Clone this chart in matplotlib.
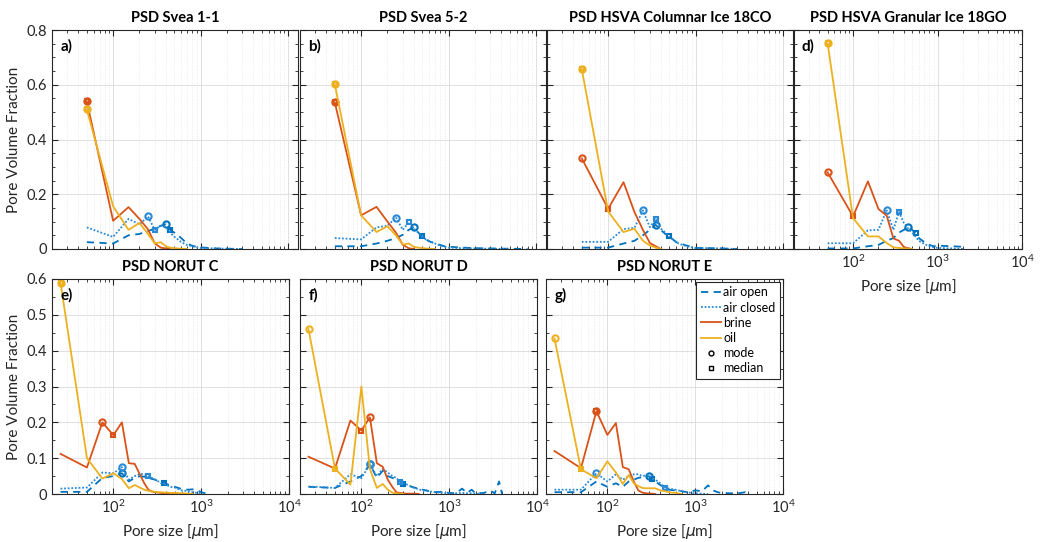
import matplotlib
matplotlib.use("Agg")
import matplotlib.pyplot as plt
from matplotlib.lines import Line2D
from matplotlib.ticker import MultipleLocator, NullFormatter, LogLocator

plt.rcParams['font.family'] = ['Lato', 'DejaVu Sans']
plt.rcParams['mathtext.fontset'] = 'dejavusans'

# pore size bins [um]
x_top = [50, 100, 150, 200, 250, 300, 350, 400, 450, 500, 550, 600,
         700, 800, 900, 1000, 1500, 2000, 3000, 5000, 8000]
x_bot = [25, 50, 75, 100, 125, 150, 175, 200, 225, 250, 275, 300, 325, 350,
         375, 400, 450, 500, 600, 700, 800, 900, 1000, 1200, 1400, 1600,
         1800, 2000, 2500, 2900, 3300, 3700, 4000]

titles = ["PSD Svea 1-1", "PSD Svea 5-2", "PSD HSVA Columnar Ice 18CO",
          "PSD HSVA Granular Ice 18GO", "PSD NORUT C", "PSD NORUT D", "PSD NORUT E"]
letters = ["a)", "b)", "", "d)", "e)", "f)", "g)"]

# a) Svea 1-1
a_air_open = [0.025, 0.02, 0.05, 0.055, 0.065, 0.075, 0.085, 0.09, 0.07, 0.06, 0.05, 0.04,
              0.02, 0.012, 0.008, 0.006, 0.002, 0.001, 0.0]
a_air_closed = [0.079, 0.044, 0.11, 0.09, 0.119, 0.07, 0.085, 0.08, 0.06, 0.045, 0.035, 0.025,
                0.015, 0.01, 0.006, 0.004, 0.002, 0.001, 0.0]
a_brine = [0.54, 0.103, 0.153, 0.11, 0.072, 0.02, 0.005, 0.002, 0.0]
a_oil = [0.51, 0.156, 0.07, 0.095, 0.055, 0.02, 0.025, 0.01, 0.005, 0.003, 0.002, 0.001, 0.0]
a_mode = [400, 250, 50, 50]
a_median = [450, 300, 50, 50]

# b) Svea 5-2
b_air_open = [0.01, 0.01, 0.02, 0.03, 0.04, 0.052, 0.07, 0.079, 0.06, 0.046, 0.035, 0.028,
              0.02, 0.015, 0.01, 0.008, 0.005, 0.003, 0.002, 0.001, 0.0]
b_air_closed = [0.04, 0.035, 0.079, 0.085, 0.115, 0.07, 0.098, 0.075, 0.06, 0.045, 0.035, 0.03,
                0.02, 0.012, 0.008, 0.005, 0.003, 0.002, 0.001, 0.0]
b_brine = [0.536, 0.123, 0.154, 0.10, 0.06, 0.015, 0.003, 0.0]
b_oil = [0.602, 0.123, 0.062, 0.083, 0.05, 0.016, 0.02, 0.008, 0.005, 0.003, 0.002, 0.001, 0.0]
b_mode = [400, 250, 50, 50]
b_median = [500, 350, 50, 50]

# c) HSVA columnar
c_air_open = [0.005, 0.005, 0.02, 0.03, 0.05, 0.07, 0.088, 0.07, 0.055, 0.046, 0.035, 0.025,
              0.018, 0.012, 0.008, 0.004, 0.003, 0.002, 0.0]
c_air_closed = [0.026, 0.026, 0.073, 0.077, 0.141, 0.08, 0.109, 0.075, 0.06, 0.045, 0.035, 0.025,
                0.015, 0.01, 0.006, 0.004, 0.003, 0.002, 0.0]
c_brine = [0.331, 0.147, 0.244, 0.135, 0.07, 0.022, 0.01, 0.0]
c_oil = [0.657, 0.137, 0.062, 0.074, 0.03, 0.013, 0.005, 0.0]
c_mode = [350, 250, 50, 50]
c_median = [500, 350, 100, 50]

# d) HSVA granular
d_air_open = [0.002, 0.002, 0.01, 0.015, 0.03, 0.04, 0.06, 0.07, 0.081, 0.07, 0.058, 0.04,
              0.025, 0.015, 0.01, 0.012, 0.01, 0.008]
d_air_closed = [0.021, 0.021, 0.068, 0.07, 0.141, 0.07, 0.135, 0.095, 0.075, 0.06, 0.045, 0.03,
                0.018, 0.01, 0.006, 0.004, 0.002, 0.0]
d_brine = [0.28, 0.119, 0.247, 0.146, 0.122, 0.039, 0.03, 0.007, 0.003, 0.0]
d_oil = [0.751, 0.113, 0.046, 0.046, 0.022, 0.006, 0.004, 0.002, 0.001, 0.0]
d_mode = [450, 250, 50, 50]
d_median = [550, 350, 100, 50]

# e) NORUT C
e_air_open = [0.006, 0.006, 0.045, 0.05, 0.058, 0.035, 0.045, 0.05, 0.048, 0.045, 0.042, 0.04,
              0.035, 0.033, 0.031, 0.028, 0.024, 0.02, 0.014, 0.012, 0.013, 0.01, 0.005, 0.0]
e_air_closed = [0.015, 0.018, 0.06, 0.058, 0.075, 0.04, 0.05, 0.056, 0.055, 0.049, 0.045, 0.04,
                0.035, 0.03, 0.028, 0.025, 0.02, 0.018, 0.01, 0.008, 0.005, 0.003, 0.002]
e_brine = [0.112, 0.074, 0.2, 0.164, 0.2, 0.086, 0.084, 0.055, 0.03, 0.012, 0.007, 0.005,
           0.004, 0.003, 0.002, 0.002, 0.001, 0.001, 0.0]
e_oil = [0.59, 0.1, 0.043, 0.058, 0.042, 0.016, 0.025, 0.018, 0.012, 0.009, 0.007, 0.006,
         0.005, 0.005, 0.004, 0.004, 0.003, 0.003, 0.002, 0.001, 0.0]
e_mode = [125, 125, 75, 25]
e_median = [375, 250, 100, 25]

# f) NORUT D
f_air_open = [0.02, 0.017, 0.035, 0.05, 0.083, 0.045, 0.065, 0.05, 0.045, 0.04, 0.035, 0.028,
              0.025, 0.022, 0.02, 0.018, 0.015, 0.012, 0.008, 0.005, 0.006, 0.004, 0.003, 0.002,
              0.015, 0.003, 0.012, 0.002, 0.003, 0.01, 0.002, 0.035, 0.0]
f_air_closed = [0.021, 0.017, 0.055, 0.044, 0.083, 0.05, 0.07, 0.06, 0.05, 0.045, 0.034, 0.03,
                0.027, 0.024, 0.02, 0.017, 0.013, 0.01, 0.007, 0.005, 0.004, 0.003, 0.002, 0.002,
                0.003, 0.002, 0.002, 0.001, 0.0]
f_brine = [0.104, 0.071, 0.205, 0.177, 0.214, 0.086, 0.076, 0.04, 0.02, 0.005, 0.003, 0.002,
           0.001, 0.001, 0.001, 0.001, 0.0]
f_oil = [0.46, 0.071, 0.026, 0.3, 0.07, 0.017, 0.028, 0.012, 0.004, 0.002, 0.001, 0.0]
f_mode = [125, 125, 125, 25]
f_median = [300, 275, 100, 50]

# g) NORUT E
g_air_open = [0.005, 0.005, 0.035, 0.02, 0.03, 0.02, 0.035, 0.04, 0.045, 0.047, 0.048, 0.049,
              0.042, 0.035, 0.03, 0.025, 0.018, 0.012, 0.01, 0.008, 0.005, 0.007, 0.01, 0.008,
              0.024, 0.01, 0.005, 0.003, 0.002, 0.002, 0.003, 0.005, 0.0]
g_air_closed = [0.012, 0.012, 0.058, 0.035, 0.055, 0.04, 0.05, 0.055, 0.055, 0.05, 0.052, 0.052,
                0.045, 0.04, 0.035, 0.03, 0.018, 0.015, 0.012, 0.008, 0.005, 0.003, 0.002, 0.001, 0.0]
g_brine = [0.12, 0.072, 0.231, 0.165, 0.198, 0.075, 0.069, 0.035, 0.01, 0.004, 0.002, 0.001, 0.001, 0.0]
g_oil = [0.434, 0.069, 0.044, 0.091, 0.06, 0.028, 0.053, 0.03, 0.022, 0.017, 0.016, 0.016,
         0.016, 0.016, 0.013, 0.01, 0.008, 0.005, 0.003, 0.0]
g_mode = [300, 75, 75, 25]
g_median = [325, 450, 75, 50]

col_open = "#0072BD"
col_closed = "#2a8ad6"
col_brine = "#D95319"
col_oil = "#EDB120"
styles = [(col_open, (0, (4, 3))), (col_closed, (0, (1, 1))), (col_brine, '-'), (col_oil, '-')]

panels = [
    (x_top, [a_air_open, a_air_closed, a_brine, a_oil], a_mode, a_median),
    (x_top, [b_air_open, b_air_closed, b_brine, b_oil], b_mode, b_median),
    (x_top, [c_air_open, c_air_closed, c_brine, c_oil], c_mode, c_median),
    (x_top, [d_air_open, d_air_closed, d_brine, d_oil], d_mode, d_median),
    (x_bot, [e_air_open, e_air_closed, e_brine, e_oil], e_mode, e_median),
    (x_bot, [f_air_open, f_air_closed, f_brine, f_oil], f_mode, f_median),
    (x_bot, [g_air_open, g_air_closed, g_brine, g_oil], g_mode, g_median),
]

W, H = 1040, 542
# axes boxes in pixels: left, right, top, bottom, xmax
boxes = [(52, 298, 30, 249, 1.3e4), (300, 546, 30, 249, 1.3e4), (547, 793, 30, 249, 1.3e4),
         (794, 1022, 30, 249, 1e4),
         (52, 289, 279, 494, 1e4), (300, 537, 279, 494, 1e4), (546, 783, 279, 494, 1e4)]

fig = plt.figure(figsize=(W / 100, H / 100), dpi=100)

for i, (xs, series, modes, medians) in enumerate(panels):
    l, r, t, b, xmax = boxes[i]
    ax = fig.add_axes([l / W, 1 - b / H, (r - l) / W, (b - t) / H])
    for vals, (col, ls), mo, me in zip(series, styles, modes, medians):
        xv = xs[:len(vals)]
        ax.plot(xv, vals, color=col, linestyle=ls, lw=1.3)
        ax.plot(mo, vals[xv.index(mo)], 'o', ms=4.5, mfc='none', mec=col, mew=1.5)
        ax.plot(me, vals[xv.index(me)], 's', ms=3.5, mfc='none', mec=col, mew=1.5)
    ax.set_xscale('log')
    ax.set_xlim(20, xmax)
    ax.xaxis.set_minor_locator(LogLocator(base=10, subs=range(2, 10), numticks=20))
    ax.xaxis.set_minor_formatter(NullFormatter())
    top_row = i < 4
    if top_row:
        ax.set_ylim(0, 0.8)
        ax.yaxis.set_major_locator(MultipleLocator(0.2))
        ax.yaxis.set_minor_locator(MultipleLocator(0.05))
    else:
        ax.set_ylim(0, 0.6)
        ax.yaxis.set_major_locator(MultipleLocator(0.1))
        ax.yaxis.set_minor_locator(MultipleLocator(0.05))
    ax.yaxis.set_major_formatter(plt.FuncFormatter(lambda v, p: "0" if v == 0 else f"{v:g}"))
    ax.grid(True, which='major', color='#dadada', lw=0.6)
    ax.grid(True, which='minor', axis='x', color='#e6e6e6', lw=0.6, linestyle=':')
    ax.tick_params(which='both', direction='in', top=True, right=True, labelsize=10.5, colors='#262626')
    ax.tick_params(which='major', length=4)
    ax.tick_params(which='minor', length=2)
    for s in ax.spines.values():
        s.set_color('#262626')
        s.set_linewidth(0.8)
    if i not in (0, 4):
        ax.set_yticklabels([])
    else:
        ax.set_ylabel("Pore Volume Fraction", fontsize=11, color='#262626')
    if i in (0, 1, 2):
        ax.set_xticklabels([])
    else:
        ax.set_xlabel(r"Pore size [$\mu$m]", fontsize=11, color='#262626')
    ax.set_title(titles[i], fontsize=10.5, fontweight='bold', pad=6)
    if letters[i]:
        ax.text(0.035, 0.96, letters[i], transform=ax.transAxes, fontsize=11,
                fontweight='bold', va='top', ha='left')
    if i == 6:
        handles = [Line2D([], [], color=col_open, linestyle=(0, (4, 3)), lw=1.3),
                   Line2D([], [], color=col_closed, linestyle=(0, (1, 1)), lw=1.3),
                   Line2D([], [], color=col_brine, lw=1.3),
                   Line2D([], [], color=col_oil, lw=1.3),
                   Line2D([], [], color='k', marker='o', ms=3.5, mfc='none', linestyle='none'),
                   Line2D([], [], color='k', marker='s', ms=3, mfc='none', linestyle='none')]
        leg = ax.legend(handles, ["air open", "air closed", "brine", "oil", "mode", "median"],
                        loc='upper right', fontsize=9, handlelength=1.6, handletextpad=0.2,
                        borderaxespad=0.25, labelspacing=0.25, borderpad=0.35,
                        fancybox=False, framealpha=1)
        leg.get_frame().set_edgecolor('#262626')
        leg.get_frame().set_linewidth(0.8)

fig.savefig("out.png", dpi=100)
